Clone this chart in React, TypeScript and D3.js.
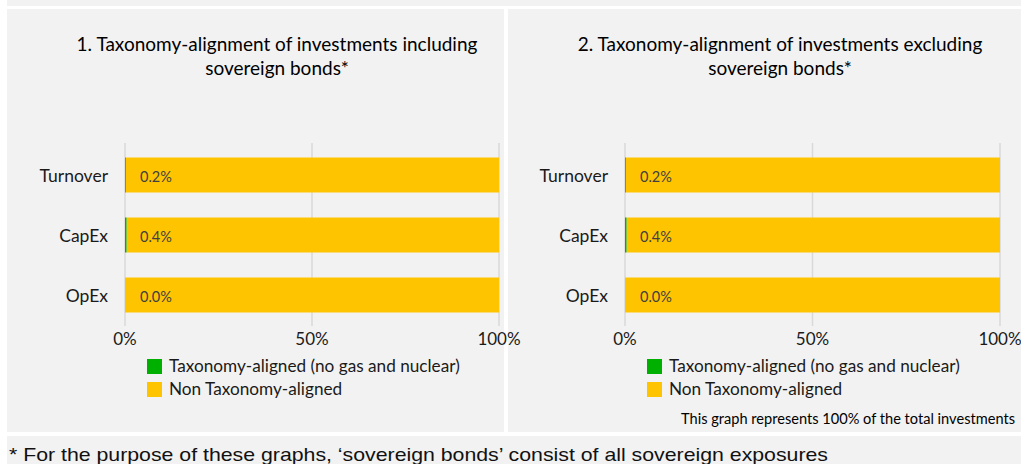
import React from "react";
import * as d3 from "d3";

const categories = ["Turnover", "CapEx", "OpEx"];
const alignedIncl = [0.2, 0.4, 0.0];
const alignedExcl = [0.2, 0.4, 0.0];
const xTicks = [0, 50, 100];
const legendLabels = ["Taxonomy-aligned (no gas and nuclear)", "Non Taxonomy-aligned"];
const titlesLeft = ["1. Taxonomy-alignment of investments including", "sovereign bonds*"];
const titlesRight = ["2. Taxonomy-alignment of investments excluding", "sovereign bonds*"];

const GREEN = "#00B000";
const YELLOW = "#FFC400";
const BG = "#F2F2F2";
const FONT = "Lato, 'Open Sans', sans-serif";

function Panel({ x0, x1, titleCx, titles, aligned }: { x0: number; x1: number; titleCx: number; titles: string[]; aligned: number[] }) {
  const x = d3.scaleLinear().domain([0, 100]).range([x0, x1]);
  const y = d3.scaleBand<string>().domain(categories).range([145, 325]).paddingInner(25 / 60).paddingOuter(12.5 / 60);
  const bw = y.bandwidth();
  return (
    <g>
      <text x={titleCx} y={51} textAnchor="middle" fontSize={19} fill="#000" fontFamily={FONT}>{titles[0]}</text>
      <text x={titleCx} y={75} textAnchor="middle" fontSize={19} fill="#000" fontFamily={FONT}>{titles[1]}</text>
      {xTicks.map((t) => (
        <line key={t} x1={x(t)} x2={x(t)} y1={143} y2={326} stroke="#D9D9D9" strokeWidth={1.5} />
      ))}
      {categories.map((c, i) => {
        const yy = y(c)!;
        const a = aligned[i];
        return (
          <g key={c}>
            <rect x={x(a)} y={yy} width={x(100) - x(a)} height={bw} fill={YELLOW} />
            <rect x={x(0)} y={yy} width={x(a) - x(0)} height={bw} fill={GREEN} />
            <text x={x0 - 17} y={yy + bw / 2 + 7} textAnchor="end" fontSize={17.5} fill="#1a1a1a" fontFamily={FONT}>{c}</text>
            <text x={x0 + 15} y={yy + bw / 2 + 7} fontSize={14.5} fill="#404040" fontFamily={FONT}>{a.toFixed(1) + "%"}</text>
          </g>
        );
      })}
      {xTicks.map((t) => (
        <text key={"l" + t} x={x(t)} y={345} textAnchor="middle" fontSize={17} fill="#1a1a1a" fontFamily={FONT}>{t + "%"}</text>
      ))}
      {legendLabels.map((l, i) => (
        <g key={l}>
          <rect x={x0 + 22} y={359 + i * 23} width={15} height={15} fill={i === 0 ? GREEN : YELLOW} />
          <text x={x0 + 44} y={372 + i * 23} fontSize={17.2} fill="#1a1a1a" fontFamily={FONT}>{l}</text>
        </g>
      ))}
    </g>
  );
}

export default function App() {
  return (
    <svg width={1021} height={464} style={{ position: "absolute", left: 0, top: 0 }}>
      <rect x={0} y={0} width={1021} height={464} fill="#fff" />
      <rect x={7} y={0} width={1014} height={6} fill={BG} />
      <rect x={7} y={9} width={497} height={423} fill={BG} />
      <rect x={508} y={9} width={513} height={423} fill={BG} />
      <rect x={7} y={436} width={1014} height={28} fill={BG} />
      <Panel x0={125} x1={499} titleCx={277} titles={titlesLeft} aligned={alignedIncl} />
      <Panel x0={625} x1={1000} titleCx={780} titles={titlesRight} aligned={alignedExcl} />
      <text x={1015} y={424} textAnchor="end" fontSize={14.6} fill="#000" fontFamily={FONT}>This graph represents 100% of the total investments</text>
      <text x={9} y={461} fontSize={18.5} fill="#111" fontFamily="'Liberation Sans', Arial, sans-serif" textLength={819} lengthAdjust="spacingAndGlyphs">* For the purpose of these graphs, ‘sovereign bonds’ consist of all sovereign exposures</text>
    </svg>
  );
}
